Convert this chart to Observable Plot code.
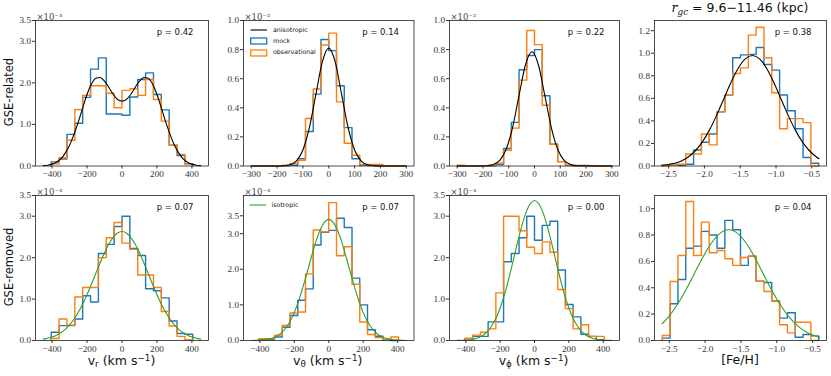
<!DOCTYPE html>
<html><head><meta charset="utf-8">
<script src="https://cdn.jsdelivr.net/npm/d3@7"></script>
<script src="https://cdn.jsdelivr.net/npm/@observablehq/plot@0.6"></script>
<style>
html,body{margin:0;padding:0;background:#fff;}
#fig{position:relative;width:831px;height:376px;overflow:hidden;font-family:"DejaVu Sans",sans-serif;color:#111;}
.lab{position:absolute;white-space:nowrap;line-height:1;}
.rot{transform:translate(-50%,-50%) rotate(-90deg);font-size:11.5px;}
.xl{transform:translateX(-50%);font-size:12.5px;top:354px;}
.xl sub{font-size:70%;vertical-align:-0.25em;}
.xl sup{font-size:70%;vertical-align:0.45em;}
.leg{position:absolute;font-size:6.3px;line-height:1;}
</style></head><body><div id="fig"></div><script>
// ---------------- data ----------------
// bins (histogram left edge and width)
const vBinStart = -405, vBinWidth = 45;            // v_r (both rows) and bottom-row v_theta, v_phi
const vNarrowBinStart = -300, vNarrowBinWidth = 30; // top-row v_theta, v_phi
const fehTopBinStart = -2.588, fehTopBinWidth = 0.1092;
const fehBotBinStart = -2.597, fehBotBinWidth = 0.1091;

// tick values
const vTicks = [-400, -200, 0, 200, 400];
const vNarrowTicks = [-300, -200, -100, 0, 100, 200, 300];
const fehTicks = [-2.5, -2.0, -1.5, -1.0, -0.5];
const yTicks35 = [0, 1, 2, 3, 3.5];
const yTicksFrac = [0, 0.2, 0.4, 0.6, 0.8, 1.0];
const yTicksFeh12 = [0, 0.2, 0.4, 0.6, 0.8, 1.0, 1.2];

// GSE-related, v_r  (x10^-3)
const relVrMock = [0.10, 0.17, 0.76, 1.03, 1.65, 2.33, 2.60, 1.25, 1.25, 1.22, 1.66, 2.08, 2.24, 1.72, 1.35, 0.50, 0.25, 0.05];
const relVrObs  = [0.05, 0.20, 0.62, 1.36, 1.70, 1.93, 1.93, 1.75, 1.40, 1.82, 1.86, 1.70, 2.08, 1.60, 1.08, 0.50, 0.28, 0.05];
const relVrModelX = [-450,-425,-400,-375,-350,-325,-300,-275,-250,-225,-200,-175,-150,-125,-100,-75,-50,-25,0,25,50,75,100,125,150,175,200,225,250,275,300,325,350,375,400,425,450];
const relVrModelY = [0.01,0.02,0.045,0.09,0.17,0.31,0.5,0.76,1.06,1.40,1.72,1.97,2.11,2.13,2.04,1.89,1.72,1.60,1.56,1.60,1.72,1.89,2.04,2.13,2.11,1.97,1.72,1.40,1.06,0.76,0.5,0.31,0.17,0.09,0.045,0.02,0.01];

// GSE-related, v_theta (x10^-2)
const relVtMock = [0, 0, 0, 0, 0.002, 0.005, 0.05, 0.237, 0.494, 0.869, 0.793, 0.552, 0.264, 0.05, 0.005, 0.003, 0, 0, 0, 0];
const relVtObs  = [0.002, 0.002, 0.002, 0.002, 0.005, 0.018, 0.04, 0.326, 0.529, 0.832, 0.913, 0.441, 0.156, 0.074, 0.01, 0.01, 0.01, 0.002, 0, 0];
const relVtModelX = [-300,-200,-175,-150,-125,-100,-75,-50,-25,0,25,50,75,100,125,150,175,200,300];
const relVtModelY = [0,0.0003,0.002,0.009,0.036,0.11,0.263,0.49,0.715,0.81,0.715,0.49,0.263,0.11,0.036,0.009,0.002,0.0003,0];

// GSE-related, v_phi (x10^-2)
const relVpMock = [0, 0, 0, 0, 0.002, 0.01, 0.12, 0.30, 0.662, 0.759, 0.80, 0.483, 0.149, 0.03, 0.003, 0.003, 0.003, 0, 0, 0];
const relVpObs  = [0.005, 0.002, 0.002, 0.002, 0.005, 0.02, 0.108, 0.26, 0.59, 0.931, 0.834, 0.418, 0.149, 0.03, 0.005, 0, 0, 0, 0, 0];
const relVpModelX = [-300,-185,-160,-135,-110,-85,-60,-35,-10,15,40,65,90,115,140,165,300];
const relVpModelY = [0,0.002,0.0104,0.039,0.115,0.266,0.485,0.696,0.785,0.696,0.485,0.266,0.115,0.039,0.0104,0.002,0];

// GSE-related, [Fe/H]
const relFehMock = [0.005, 0.01, 0.005, 0.015, 0.142, 0.21, 0.284, 0.48, 0.628, 0.96, 0.985, 0.99, 1.05, 0.90, 0.85, 0.63, 0.49, 0.33, 0.075, 0.025];
const relFehObs  = [0, 0.015, 0.015, 0.107, 0.107, 0.284, 0.187, 0.48, 0.628, 0.82, 0.87, 1.16, 1.23, 0.96, 0.65, 0.33, 0.42, 0.42, 0.385, 0];
const relFehModelX = [-2.60,-2.53,-2.43,-2.33,-2.23,-2.13,-2.03,-1.93,-1.83,-1.73,-1.63,-1.53,-1.43,-1.33,-1.23,-1.13,-1.03,-0.93,-0.83,-0.73,-0.63,-0.53,-0.43,-0.40];
const relFehModelY = [0.006,0.011,0.022,0.043,0.078,0.133,0.212,0.318,0.449,0.594,0.74,0.865,0.95,0.98,0.95,0.865,0.74,0.594,0.449,0.318,0.212,0.133,0.078,0.065];

// GSE-removed, v_r (x10^-3)
const remVrMock = [0.20, 0.36, 0.36, 0.52, 1.08, 0.93, 2.10, 2.32, 2.75, 3.00, 2.22, 2.05, 1.25, 1.20, 1.03, 0.47, 0.17, 0.15];
const remVrObs  = [0.05, 0.52, 0.37, 1.05, 1.28, 1.28, 2.00, 2.48, 2.85, 2.35, 2.20, 1.58, 1.58, 1.28, 0.70, 0.35, 0.10, 0.02];
const remVrModelX = [-450,-425,-400,-375,-350,-325,-300,-275,-250,-225,-200,-175,-150,-125,-100,-75,-50,-25,0,25,50,75,100,125,150,175,200,225,250,275,300,325,350,375,400,425,450];
const remVrModelY = [0.033,0.053,0.082,0.125,0.186,0.267,0.375,0.512,0.68,0.879,1.11,1.356,1.62,1.876,2.12,2.33,2.49,2.595,2.63,2.595,2.49,2.33,2.12,1.876,1.62,1.356,1.11,0.879,0.68,0.512,0.375,0.267,0.186,0.125,0.082,0.053,0.033];

// GSE-removed, v_theta (x10^-3)
const remVtMock = [0.02, 0.03, 0.10, 0.37, 0.70, 1.13, 1.45, 2.68, 3.04, 3.09, 3.43, 3.17, 1.75, 1.00, 0.30, 0.12, 0.02, 0.0];
const remVtObs  = [0.05, 0.05, 0.15, 0.42, 0.77, 0.80, 1.87, 3.10, 3.05, 3.87, 2.38, 2.63, 1.58, 0.52, 0.17, 0.08, 0.03, 0.10];
const remVtModelX = [-450,-425,-400,-375,-350,-325,-300,-275,-250,-225,-200,-175,-150,-125,-100,-75,-50,-25,0,25,50,75,100,125,150,175,200,225,250,275,300,325,350,375,400,425,450];
const remVtModelY = [0.002,0.005,0.01,0.02,0.039,0.072,0.127,0.215,0.35,0.535,0.79,1.11,1.50,1.92,2.36,2.77,3.10,3.32,3.40,3.32,3.10,2.77,2.36,1.92,1.50,1.11,0.79,0.535,0.35,0.215,0.127,0.072,0.039,0.02,0.01,0.005,0.002];

// GSE-removed, v_phi (x10^-3)
const remVpMock = [0.05, 0.10, 0.10, 0.45, 0.45, 1.90, 2.10, 2.48, 3.00, 2.42, 2.78, 2.88, 1.70, 0.87, 0.57, 0.15, 0.10, 0.02];
const remVpObs  = [0.05, 0.13, 0.20, 0.28, 1.15, 3.00, 3.00, 2.65, 2.25, 2.10, 2.38, 2.13, 1.23, 0.77, 0.28, 0.38, 0.10, 0.10];
const remVpModelX = [-450,-425,-400,-375,-350,-325,-300,-275,-250,-225,-200,-175,-150,-125,-100,-75,-50,-25,0,25,50,75,100,125,150,175,200,225,250,275,300,325,350,375,400,425,450];
const remVpModelY = [0.002,0.005,0.01,0.02,0.039,0.072,0.126,0.214,0.35,0.53,0.785,1.10,1.49,1.91,2.35,2.75,3.08,3.30,3.38,3.30,3.08,2.75,2.35,1.91,1.49,1.10,0.785,0.53,0.35,0.214,0.126,0.072,0.039,0.02,0.01,0.005,0.002];

// GSE-removed, [Fe/H]
const remFehMock = [0.018, 0.279, 0.463, 0.70, 0.716, 0.828, 0.80, 0.70, 0.911, 0.84, 0.57, 0.64, 0.45, 0.44, 0.30, 0.17, 0.21, 0.025, 0.045, 0.035];
const remFehObs  = [0.038, 0.448, 0.645, 1.055, 0.645, 0.898, 0.666, 0.683, 0.62, 0.57, 0.63, 0.64, 0.45, 0.372, 0.30, 0.12, 0.058, 0.139, 0.139, 0];
const remFehModelX = [-2.60,-2.57,-2.47,-2.37,-2.27,-2.17,-2.07,-1.97,-1.87,-1.77,-1.67,-1.57,-1.47,-1.37,-1.27,-1.17,-1.07,-0.97,-0.87,-0.77,-0.67,-0.57,-0.47,-0.40];
const remFehModelY = [0.127,0.143,0.207,0.288,0.382,0.486,0.592,0.69,0.77,0.822,0.84,0.822,0.77,0.69,0.592,0.486,0.382,0.288,0.207,0.143,0.094,0.059,0.036,0.025];

const pValues = ["p = 0.42", "p = 0.14", "p = 0.22", "p = 0.38", "p = 0.07", "p = 0.07", "p = 0.00", "p = 0.04"];

// ---------------- layout / style ----------------
const MOCK = "#1f77b4", OBS = "#ff7f0e", ANISO = "#000000", ISO = "#2ca02c";
const cols = [[35, 208], [242.5, 413], [448.5, 618.5], [654, 826]];
const rows = [[19.5, 165], [195, 340]];
const M = {l: 40, r: 14, t: 22, b: 26};

const panels = [
  {r:0,c:0, xd:[-495,495], yd:[0,3.5], xt:vTicks, yt:yTicks35, xf:"d", start:vBinStart, w:vBinWidth, mock:relVrMock, obs:relVrObs, mx:relVrModelX, my:relVrModelY, mc:ANISO, off:"×10⁻³"},
  {r:0,c:1, xd:[-330,330], yd:[0,1.0], xt:vNarrowTicks, yt:yTicksFrac, xf:"d", start:vNarrowBinStart, w:vNarrowBinWidth, mock:relVtMock, obs:relVtObs, mx:relVtModelX, my:relVtModelY, mc:ANISO, off:"×10⁻²"},
  {r:0,c:2, xd:[-330,330], yd:[0,1.0], xt:vNarrowTicks, yt:yTicksFrac, xf:"d", start:vNarrowBinStart, w:vNarrowBinWidth, mock:relVpMock, obs:relVpObs, mx:relVpModelX, my:relVpModelY, mc:ANISO, off:"×10⁻²"},
  {r:0,c:3, xd:[-2.697,-0.295], yd:[0,1.29], xt:fehTicks, yt:yTicksFeh12, xf:".1f", start:fehTopBinStart, w:fehTopBinWidth, mock:relFehMock, obs:relFehObs, mx:relFehModelX, my:relFehModelY, mc:ANISO, off:null},
  {r:1,c:0, xd:[-495,495], yd:[0,3.5], xt:vTicks, yt:yTicks35, xf:"d", start:vBinStart, w:vBinWidth, mock:remVrMock, obs:remVrObs, mx:remVrModelX, my:remVrModelY, mc:ISO, off:"×10⁻³"},
  {r:1,c:1, xd:[-495,495], yd:[0,4.07], xt:vTicks, yt:yTicks35, xf:"d", start:vBinStart, w:vBinWidth, mock:remVtMock, obs:remVtObs, mx:remVtModelX, my:remVtModelY, mc:ISO, off:"×10⁻³"},
  {r:1,c:2, xd:[-495,495], yd:[0,3.5], xt:vTicks, yt:yTicks35, xf:"d", start:vBinStart, w:vBinWidth, mock:remVpMock, obs:remVpObs, mx:remVpModelX, my:remVpModelY, mc:ISO, off:"×10⁻³"},
  {r:1,c:3, xd:[-2.706,-0.306], yd:[0,1.10], xt:fehTicks, yt:yTicksFrac, xf:".1f", start:fehBotBinStart, w:fehBotBinWidth, mock:remFehMock, obs:remFehObs, mx:remFehModelX, my:remFehModelY, mc:ISO, off:null}
];

function stepData(start, width, h) {
  const pts = [{x: start, y: 0}];
  h.forEach((v, i) => pts.push({x: start + i * width, y: v}));
  pts.push({x: start + h.length * width, y: h[h.length - 1]});
  pts.push({x: start + h.length * width, y: 0});
  return pts;
}

const fig = document.getElementById("fig");

panels.forEach((p, i) => {
  const [x0, x1] = cols[p.c], [y0, y1] = rows[p.r];
  const model = p.mx.map((x, k) => ({x, y: p.my[k]}));
  const marks = [
    Plot.line(stepData(p.start, p.w, p.mock), {x: "x", y: "y", curve: "step-after", stroke: MOCK, strokeWidth: 1.4}),
    Plot.line(stepData(p.start, p.w, p.obs), {x: "x", y: "y", curve: "step-after", stroke: OBS, strokeWidth: 1.4}),
    Plot.line(model, {x: "x", y: "y", curve: "monotone-x", stroke: p.mc, strokeWidth: 1.1}),
    Plot.frame({stroke: "#222", strokeWidth: 0.8}),
    Plot.text([pValues[i]], {text: d => d, frameAnchor: "top-right", dx: -15, dy: 8, fontFamily: "DejaVu Sans", fontSize: 8.5, fill: "#111"})
  ];
  if (p.off) marks.push(Plot.text([p.off], {text: d => d, frameAnchor: "top-left", textAnchor: "start", lineAnchor: "bottom", dx: 1, dy: -0.5, fontFamily: "'DejaVu Serif', serif", fontSize: 8.5, fill: "#444"}));
  const svg = Plot.plot({
    width: x1 - x0 + M.l + M.r,
    height: y1 - y0 + M.t + M.b,
    marginLeft: M.l, marginRight: M.r, marginTop: M.t, marginBottom: M.b,
    style: {background: "transparent", fontFamily: "'Liberation Serif', serif", fontSize: "9.2px", color: "#333", overflow: "visible"},
    x: {domain: p.xd, ticks: p.xt, tickFormat: d3.format(p.xf), tickSize: 3, tickPadding: 1.5, label: null},
    y: {domain: p.yd, ticks: p.yt, tickFormat: d3.format(".1f"), tickSize: 3, tickPadding: 1.5, label: null},
    marks
  });
  svg.style.position = "absolute";
  svg.style.left = (x0 - M.l) + "px";
  svg.style.top = (y0 - M.t) + "px";
  fig.appendChild(svg);
});

// ---------------- texts ----------------
function addLab(html, cls, style) {
  const d = document.createElement("div");
  d.className = "lab " + cls;
  d.innerHTML = html;
  Object.assign(d.style, style);
  fig.appendChild(d);
}
addLab("GSE-related", "rot", {left: "10px", top: "92px"});
addLab("GSE-removed", "rot", {left: "10px", top: "267px"});
const xLabels = ["v<sub>r</sub> (km s<sup>−1</sup>)", "v<sub>θ</sub> (km s<sup>−1</sup>)", "v<sub>ϕ</sub> (km s<sup>−1</sup>)", "[Fe/H]"];
xLabels.forEach((t, c) => addLab(t, "xl", {left: ((cols[c][0] + cols[c][1]) / 2) + "px"}));
addLab("<span style=\"font-family:'DejaVu Serif',serif;font-style:italic\">r</span><sub style=\"font-family:'DejaVu Serif',serif;font-style:italic;font-size:70%;vertical-align:-0.3em\">gc</sub> = 9.6−11.46 (kpc)", "", {left: "740px", top: "2px", transform: "translateX(-50%)", fontSize: "12.5px"});

// legends
function legend(left, top, entries) {
  const wrap = document.createElement("div");
  wrap.style.position = "absolute"; wrap.style.left = left + "px"; wrap.style.top = top + "px";
  entries.forEach((e, k) => {
    const row = document.createElement("div");
    row.style.cssText = "position:absolute;left:0;top:" + (k * 11.3) + "px;height:8px;width:90px;";
    const sw = e.kind === "line"
      ? `<svg width="18" height="8" style="position:absolute;left:0;top:0"><line x1="0.5" y1="4" x2="17" y2="4" stroke="${e.color}" stroke-width="1.1"/></svg>`
      : `<svg width="18" height="8" style="position:absolute;left:0;top:0"><rect x="0.7" y="1" width="16" height="6" fill="none" stroke="${e.color}" stroke-width="1.3"/></svg>`;
    row.innerHTML = sw + `<span class="leg" style="left:23px;top:0.5px">${e.label}</span>`;
    wrap.appendChild(row);
  });
  fig.appendChild(wrap);
}
legend(250, 26, [{kind: "line", color: ANISO, label: "anisotropic"}, {kind: "rect", color: MOCK, label: "mock"}, {kind: "rect", color: OBS, label: "observational"}]);
legend(248.5, 201, [{kind: "line", color: ISO, label: "isotropic"}]);
</script></body></html>
